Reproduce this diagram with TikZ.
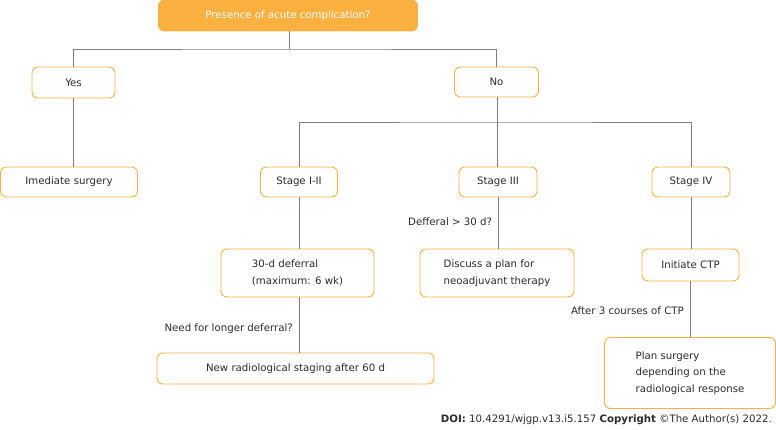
\documentclass[tikz,border=0pt]{standalone}
\usepackage{fontspec}
\setmainfont{DejaVu Sans}
\definecolor{boxor}{HTML}{FBB040}
\definecolor{lineg}{HTML}{7F7F7F}
\definecolor{txt}{HTML}{2B2B2B}
\begin{document}
\begin{tikzpicture}[x=1pt,y=-1pt,
  box/.style={draw=boxor,line width=0.9pt,rounded corners=6pt,fill=white,text=txt,font=\fontsize{10.2}{16.5}\selectfont,inner sep=0pt},
  lbl/.style={text=txt,font=\fontsize{10.2}{16.5}\selectfont,inner sep=0pt},
  conn/.style={draw=lineg,line width=0.7pt}]
\useasboundingbox (0,0) rectangle (776,430);
\node[box,fill=boxor,text=white,minimum width=259pt,minimum height=31pt] (top) at (288,15.5) {Presence of acute complication?};
\node[box,minimum width=83pt,minimum height=31pt] (yes) at (73.5,82.5) {Yes};
\node[box,minimum width=84pt,minimum height=30pt] (no) at (496.5,82) {No};
\node[box,minimum width=137pt,minimum height=30pt] (imm) at (69,182) {Imediate surgery};
\node[box,minimum width=77pt,minimum height=30pt] (s12) at (299,182) {Stage I-II};
\node[box,minimum width=78pt,minimum height=30pt] (s3) at (498,182) {Stage III};
\node[box,minimum width=78pt,minimum height=30pt] (s4) at (691,182) {Stage IV};
\node[box,minimum width=153pt,minimum height=48pt,align=left] (def) at (297.5,273) {30-d deferral\\(maximum: 6 wk)};
\node[box,minimum width=154pt,minimum height=48pt,align=left] (disc) at (497,273) {Discuss a plan for\\neoadjuvant therapy};
\node[box,minimum width=97pt,minimum height=32pt] (ictp) at (690.5,265) {Initiate CTP};
\node[box,minimum width=277pt,minimum height=31pt] (newr) at (295.5,368.5) {New radiological staging after 60 d};
\node[box,minimum width=171pt,minimum height=71pt,align=left] (plan) at (690,373) {Plan surgery\\depending on the\\radiological response};
\coordinate (j1) at (289,49);
\coordinate (j2) at (497,122);
\draw[conn] (top.south-|j1) -- (j1);
\draw[conn] (yes.north) |- (j1) -| (no.north);
\draw[conn] (yes.south) -- (yes.south|-imm.north);
\draw[conn] (no.south-|j2) -- (j2);
\draw[conn] (s12.north) |- (j2) -| (s4.north);
\draw[conn] (j2) -- (j2|-s3.north);
\draw[conn] (s12.south) -- (s12.south|-def.north);
\draw[conn] (s3.south) -- (s3.south|-disc.north);
\draw[conn] (s4.south) -- (s4.south|-ictp.north);
\draw[conn] (def.south-|s12.south) -- (s12.south|-newr.north);
\draw[conn] (ictp.south) -- (ictp.south|-plan.north);
\node[lbl,anchor=west] (l1) at (408,222) {Defferal > 30 d?};
\node[lbl,anchor=east] (l2) at (293,329) {Need for longer deferral?};
\node[lbl,anchor=east] (l3) at (684,311) {After 3 courses of CTP};
\node[lbl,anchor=east] (doi) at (772,420) {\textbf{DOI:} 10.4291/wjgp.v13.i5.157 \textbf{Copyright} ©The Author(s) 2022.};
\end{tikzpicture}
\end{document}
